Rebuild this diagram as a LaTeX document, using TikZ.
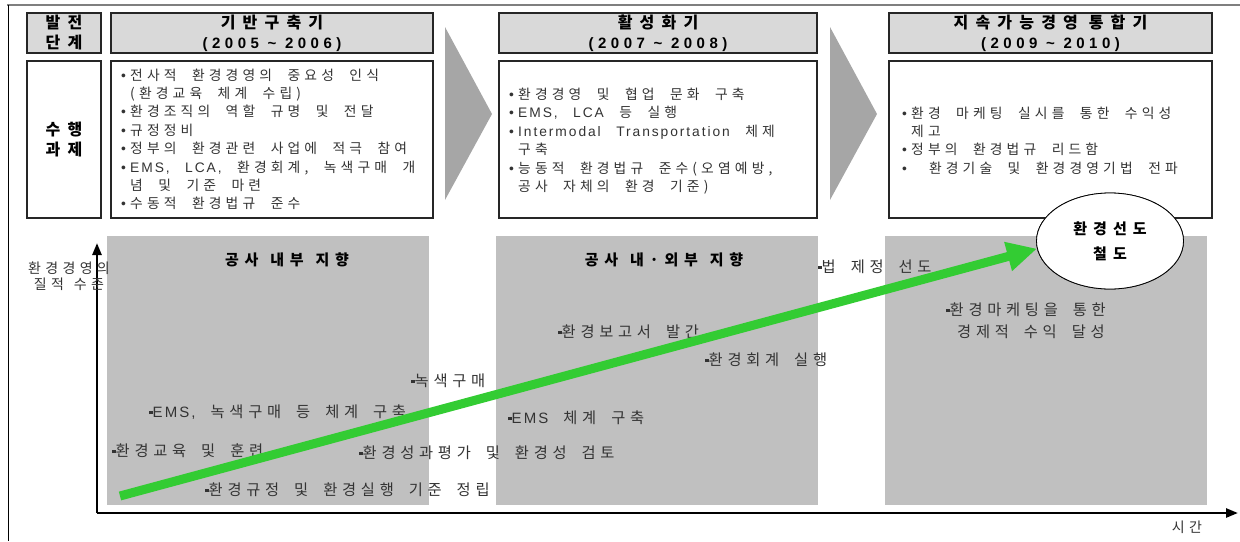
\documentclass[tikz,border=0pt]{standalone}
\usepackage{fontspec}
\setmainfont{Liberation Sans}
\newfontfamily\krA[LetterSpace=30]{Noto Sans CJK KR}
\newfontfamily\krT[LetterSpace=45]{Noto Sans CJK KR}
\newfontfamily\krZ[LetterSpace=38]{Noto Sans CJK KR}
\newfontfamily\krE[LetterSpace=40]{Noto Sans CJK KR}
\newfontfamily\krL[LetterSpace=31]{Noto Sans CJK KR}
\newfontfamily\latA[LetterSpace=14]{Liberation Sans}
\newfontfamily\latT[LetterSpace=30]{Liberation Sans}
\usetikzlibrary{arrows.meta,shapes.geometric}
\definecolor{hdr}{HTML}{D9D9D9}
\definecolor{chev}{HTML}{A6A6A6}
\definecolor{zone}{HTML}{C0C0C0}
\definecolor{grn}{HTML}{33CC33}
\definecolor{txt}{HTML}{333333}
\definecolor{framec}{HTML}{7F7F7F}
\newcommand\bl{\makebox[9pt][l]{\latA •}}
\newcommand\ind{\hspace*{9pt}}
\newcommand\sq{\raisebox{3pt}{\rule{3.5pt}{3.5pt}}}
\newcommand\fTask{\krA\fontsize{13.8}{15}\selectfont\spaceskip 15.5pt\relax}
\newcommand\fLab{\krL\fontsize{15.3}{17}\selectfont\spaceskip 15pt\relax}
\newcommand\fTtl{\krT\bfseries\fontsize{16}{20}\selectfont}
\newcommand\fLat{\latT\bfseries\fontsize{15}{20}\selectfont}
\newcommand\fZone{\krZ\bfseries\fontsize{15}{17}\selectfont\spaceskip 12pt\relax}
\newcommand\fAx{\krL\fontsize{14}{16}\selectfont\spaceskip 10pt\relax}
\newcommand\fEl{\krE\bfseries\fontsize{15}{25}\selectfont}
\begin{document}
\begin{tikzpicture}[x=1pt,y=-1pt,
  hdrbox/.style={draw=black!85, line width=1.2pt, fill=hdr, inner sep=0pt},
  taskbox/.style={draw=black!85, line width=1.2pt, fill=white, inner sep=0pt},
  ttl/.style={align=center, font=\fTtl},
  tline/.style={anchor=base west, inner sep=0pt, text=txt, font=\fTask},
  lab/.style={anchor=base west, inner sep=0pt, text=txt, font=\fLab},
  zhead/.style={inner sep=0pt, font=\fZone},
  chevron/.style={fill=chev},
  zonebox/.style={fill=zone},
  axis/.style={line width=2.5pt, -{Triangle[length=12pt,width=9pt]}},
  growth/.style={grn, line width=9pt, -{Triangle[length=30pt,width=28pt]}}
]
\useasboundingbox (0,0) rectangle (1240,541);
% outer frame
\draw[framec, line width=2pt] (7,5) -- (1240,5);
\draw[black, line width=1pt] (8,5) -- (8,541);

% header row
\node[hdrbox, minimum width=74pt, minimum height=40pt] (h0) at (64,33) {};
\node[ttl] (h0t) at (64,33) {발전\\단계};
\node[hdrbox, minimum width=322pt, minimum height=40pt] (h1) at (272,33) {};
\node[ttl] (h1t) at (272,33) {기반구축기\\{\fLat (2005 \textasciitilde{} 2006)}};
\node[hdrbox, minimum width=318pt, minimum height=40pt] (h2) at (658,33) {};
\node[ttl] (h2t) at (658,33) {활성화기\\{\fLat (2007 \textasciitilde{} 2008)}};
\node[hdrbox, minimum width=323pt, minimum height=40pt] (h3) at (1050.5,33) {};
\node[ttl] (h3t) at (1050.5,33) {지속가능경영 통합기\\{\fLat (2009 \textasciitilde{} 2010)}};

% chevrons
\fill[chevron] (445,27) -- (492,114) -- (445,200) -- cycle;
\fill[chevron] (830,27) -- (877,114) -- (830,200) -- cycle;

% task boxes
\node[taskbox, minimum width=74pt, minimum height=157pt] (p0) at (64,139.5) {};
\node[ttl] (p0t) at (64,140) {수행\\과제};
\node[taskbox, minimum width=322pt, minimum height=157pt] (p1) at (272,139.5) {};
\node[taskbox, minimum width=318pt, minimum height=157pt] (p2) at (658,139.5) {};
\node[taskbox, minimum width=323pt, minimum height=157pt] (p3) at (1050.5,139.5) {};

\foreach \tx [count=\i] in {
  {\bl 전사적 환경경영의 중요성 인식},
  {\ind(환경교육 체계 수립)},
  {\bl 환경조직의 역할 규명 및 전달},
  {\bl 규정정비},
  {\bl 정부의 환경관련 사업에 적극 참여},
  {\bl{\latA EMS, LCA,} 환경회계, 녹색구매 개},
  {\ind 념 및 기준 마련},
  {\bl 수동적 환경법규 준수}}
  \node[tline] (a\i) at (121,{80+18.4*(\i-1)}) {\tx};

\foreach \tx [count=\i] in {
  {\bl 환경경영 및 협업 문화 구축},
  {\bl{\latA EMS, LCA} 등 실행},
  {\bl{\latA Intermodal Transportation} 체제},
  {\ind 구축},
  {\bl 능동적 환경법규 준수(오염예방,},
  {\ind 공사 자체의 환경 기준)}}
  \node[tline] (b\i) at (509,{99+18.5*(\i-1)}) {\tx};

\foreach \tx [count=\i] in {
  {\bl 환경 마케팅 실시를 통한 수익성},
  {\ind 제고},
  {\bl 정부의 환경법규 리드함},
  {\bl\, 환경기술 및 환경경영기법 전파}}
  \node[tline] (c\i) at (902,{118+18.4*(\i-1)}) {\tx};

% zones
\fill[zonebox] (107,236) rectangle (429,505);
\fill[zonebox] (496,236) rectangle (818,505);
\fill[zonebox] (885,236) rectangle (1207,505);

% axes
\coordinate (o) at (97,513);
\coordinate (ytop) at (97,243);
\coordinate (xend) at (1238,513);
\draw[axis] (o) -- (ytop);
\draw[axis] (o) -- (xend);

\node[inner sep=0pt, align=center, text=txt, font=\fAx] (ylab) at (69,276) {환경경영의\\질적 수준};
\node[inner sep=0pt, text=txt, font=\fAx] (xlab) at (1187,527) {시간};

% zone headings
\node[zhead] (z1) at (287,260) {공사 내부 지향};
\node[zhead] (z2) at (664,260) {공사 내·외부 지향};

% labels
\node[lab] (l1) at (411,386) {\sq 녹색구매};
\node[lab] (l2) at (149,417) {\sq{\latA\fontsize{15}{17}\selectfont EMS,} 녹색구매 등 체계 구축};
\node[lab] (l3) at (112,456) {\sq 환경교육 및 훈련};
\node[lab] (l4) at (359,458) {\sq 환경성과평가 및 환경성 검토};
\node[lab] (l5) at (205,495) {\sq 환경규정 및 환경실행 기준 정립};
\node[lab] (l6) at (558,337) {\sq 환경보고서 발간};
\node[lab] (l7) at (705,365) {\sq 환경회계 실행};
\node[lab] (l8) at (508,423) {\sq{\latA\fontsize{15}{17}\selectfont EMS} 체계 구축};
\node[lab] (l9) at (818,272) {\sq 법 제정 선도};
\node[lab] (l10) at (946,315) {\sq 환경마케팅을 통한};
\node[lab] (l11) at (957,337) {경제적 수익 달성};

% ellipse and growth arrow
\node[ellipse, draw=black, line width=0.8pt, fill=white, minimum width=147pt, minimum height=96pt, inner sep=0pt] (el) at (1110,241) {};
\coordinate (gs) at (120,496);
\draw[growth] (gs) -- (el.186);
\node[ellipse, draw=black, line width=0.8pt, fill=white, minimum width=147pt, minimum height=96pt, inner sep=0pt, align=center, font=\fEl] (el2) at (1110,241) {환경선도\\철도};
\end{tikzpicture}
\end{document}
